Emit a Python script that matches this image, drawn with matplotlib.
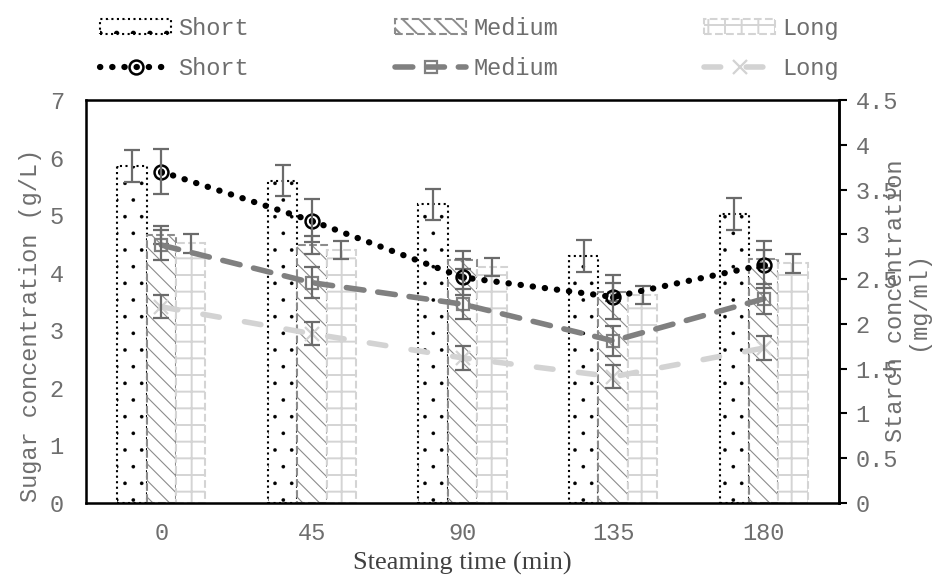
import matplotlib
matplotlib.use("Agg")
import matplotlib.pyplot as plt
import numpy as np

plt.rcParams['font.family'] = ['Liberation Mono', 'DejaVu Sans Mono']

times = ['0', '45', '90', '135', '180']

# sugar concentration (g/L), bars, left axis
sugar_short = [5.85, 5.60, 5.19, 4.29, 5.02]
sugar_medium = [4.65, 4.48, 4.22, 3.66, 4.24]
sugar_long = [4.51, 4.39, 4.10, 3.61, 4.16]
sugar_short_err = [0.28, 0.27, 0.27, 0.28, 0.28]
sugar_medium_err = [0.16, 0.16, 0.16, 0.16, 0.16]
sugar_long_err = [0.16, 0.16, 0.16, 0.16, 0.16]

# starch concentration (mg/ml), lines, right axis
starch_short = [3.70, 3.15, 2.52, 2.30, 2.66]
starch_medium = [2.88, 2.46, 2.22, 1.81, 2.28]
starch_long = [2.19, 1.89, 1.62, 1.41, 1.73]
starch_short_err = [0.25, 0.24, 0.20, 0.25, 0.26]
starch_medium_err = [0.17, 0.17, 0.17, 0.17, 0.17]
starch_long_err = [0.13, 0.13, 0.13, 0.13, 0.13]

left_ticks = [0, 1, 2, 3, 4, 5, 6, 7]
right_ticks = [0, 0.5, 1, 1.5, 2, 2.5, 3, 3.5, 4, 4.5]
right_ticklabels = ['0', '0.5', '1', '1.5', '2', '2.5', '3', '3.5', '4', '4.5']

txt = '#6e6e6e'
errc = '#6b6b6b'
fs = 17

fig = plt.figure(figsize=(9.33, 5.78), dpi=100)
ax = fig.add_axes([0.0922, 0.1298, 0.8071, 0.6972])
x = np.arange(len(times))
w = 0.195

plt.rcParams['hatch.linewidth'] = 0.2
b1 = ax.bar(x - w, sugar_short, w, facecolor='white', edgecolor='black',
            linestyle=':', linewidth=1.5, hatch='.', label='Short')
plt.rcParams['hatch.linewidth'] = 0.8
b2 = ax.bar(x, sugar_medium, w, facecolor='white', edgecolor='#8c8c8c',
            linestyle='--', linewidth=1.5, hatch='\\\\', label='Medium')
plt.rcParams['hatch.linewidth'] = 1.4
b3 = ax.bar(x + w, sugar_long, w, facecolor='white', edgecolor='#d4d4d4',
            linestyle='--', linewidth=1.5, hatch='+', label='Long')
for xs, ys, es in [(x - w, sugar_short, sugar_short_err),
                   (x, sugar_medium, sugar_medium_err),
                   (x + w, sugar_long, sugar_long_err)]:
    ax.errorbar(xs, ys, yerr=es, fmt='none', ecolor=errc, elinewidth=1.6,
                capsize=6, capthick=1.6, zorder=3)

ax.set_xlim(-0.5, 4.5)
ax.set_ylim(0, 7)
ax.set_xticks(x)
ax.set_xticklabels(times)
ax.set_yticks(left_ticks)
ax.tick_params(axis='both', length=0, labelsize=fs, colors=txt)
ax.tick_params(axis='x', pad=14)
ax.tick_params(axis='y', pad=16)
for s in ax.spines.values():
    s.set_color('black')
    s.set_linewidth(1.8)
ax.set_ylabel('Sugar concentration (g/L)', fontsize=fs, color=txt)
ax.yaxis.set_label_coords(-0.058, 0.44)
ax.set_xlabel('Steaming time (min)', fontsize=19, color='#404040',
              family='Liberation Serif', labelpad=5)

ax2 = ax.twinx()
ax2.set_ylim(0, 4.5)
ax2.set_yticks(right_ticks)
ax2.set_yticklabels(right_ticklabels)
ax2.tick_params(axis='y', length=6, width=1.5, color='black', labelsize=fs,
                labelcolor=txt, pad=6)
ax2.spines['right'].set_linewidth(1.8)

for xs, ys, es in [(x, starch_short, starch_short_err),
                   (x, starch_medium, starch_medium_err),
                   (x, starch_long, starch_long_err)]:
    ax2.errorbar(xs, ys, yerr=es, fmt='none', ecolor=errc, elinewidth=1.6,
                 capsize=6, capthick=1.6, zorder=4)

l1, = ax2.plot(x, starch_short, color='black', linewidth=4.5,
               dashes=(0.05, 1.9), dash_capstyle='round', marker='o',
               markersize=10, markerfacecolor='none', markeredgecolor='black',
               markeredgewidth=1.8, label='Short', zorder=3)
ax2.plot(x, starch_short, linestyle='none', marker='o', markersize=4,
         color='black', zorder=3)
l2, = ax2.plot(x, starch_medium, color='#808080', linewidth=4,
               dashes=(3.2, 2.5), dash_capstyle='round', marker='s',
               markersize=9, markerfacecolor='none', markeredgecolor='#808080',
               markeredgewidth=1.6, label='Medium', zorder=3)
l3, = ax2.plot(x, starch_long, color='#d3d3d3', linewidth=4,
               dashes=(3.0, 4.6), dash_capstyle='round', marker='x',
               markersize=10, markeredgecolor='#d3d3d3',
               markeredgewidth=1.6, label='Long', zorder=3)

fig.text(0.972, 0.48, 'Starch concentration\n(mg/ml)', rotation=90,
         ha='center', va='center', multialignment='center',
         fontsize=fs, color=txt, linespacing=0.95)

handles = [b1, l1, b2, l2, b3, l3]
labels = ['Short', 'Short', 'Medium', 'Medium', 'Long', 'Long']
fig.legend(handles, labels, ncol=3, loc='upper left',
           bbox_to_anchor=(0.09, 1.0), frameon=False, fontsize=fs,
           labelcolor=txt, handlelength=3, handleheight=0.6,
           handletextpad=0.3, columnspacing=6.2, labelspacing=0.75,
           numpoints=1, borderaxespad=0.3)

fig.savefig('out.png', dpi=100)
